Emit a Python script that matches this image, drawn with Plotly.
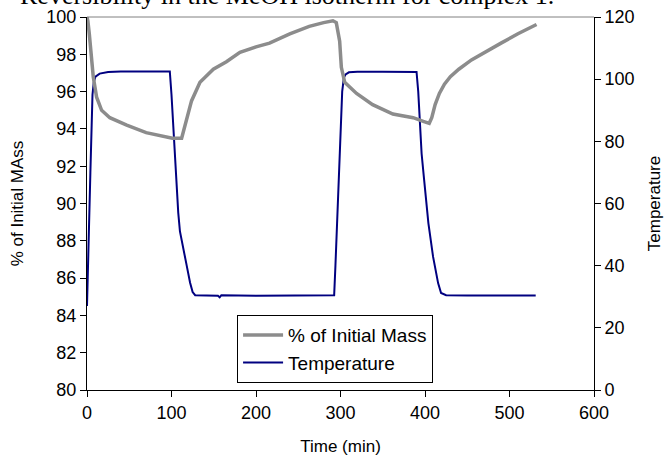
import plotly.graph_objects as go

# ---- data ----
temp_time = [0, 1, 2.5, 4, 5.5, 6.5, 8, 10, 15, 25, 40, 60, 80, 98, 100, 102, 104, 106, 108, 110,
             114, 118, 122, 125, 128, 140, 155, 157, 159, 200, 250, 292.5, 294, 296, 298, 299.5,
             300.5, 302, 304, 306, 310, 320, 350, 380, 390, 392, 394, 396, 399, 400, 404, 409.6,
             415.5, 419, 425, 450, 500, 531]
temp_vals = [27, 40, 55, 70, 85, 95, 99, 100.8, 101.8, 102.3, 102.5, 102.5, 102.5, 102.5, 95, 85,
             75, 65, 57, 51, 45, 40, 34.5, 31.5, 30.5, 30.5, 30.3, 29.8, 30.5, 30.3, 30.3, 30.5,
             40, 55, 65, 78, 87, 96, 100.5, 101.5, 102.2, 102.4, 102.4, 102.3, 102.3, 96, 87,
             76, 67.5, 64.4, 53.7, 42.8, 34.4, 31.2, 30.5, 30.4, 30.4, 30.4]

mass_time = [0, 1, 2.7, 5.5, 7.4, 11.4, 17.3, 27, 47, 70, 94, 101, 112, 115, 117.8, 123.7, 133.7,
             149.5, 165, 181, 200, 216, 240, 263, 280, 291, 295, 299, 301, 305, 319, 338, 362,
             386, 398, 405, 408, 412, 417, 423, 430, 440, 455, 470, 490, 510, 532]
mass_vals = [100, 99.8, 99.1, 97.9, 96.8, 95.7, 95.0, 94.6, 94.2, 93.8, 93.6, 93.5, 93.5, 94.0,
             94.5, 95.5, 96.5, 97.2, 97.6, 98.1, 98.4, 98.6, 99.1, 99.5, 99.7, 99.8, 99.7, 98.7,
             97.3, 96.5, 95.9, 95.3, 94.8, 94.6, 94.4, 94.3, 94.6, 95.3, 95.9, 96.4, 96.8, 97.2,
             97.7, 98.1, 98.6, 99.1, 99.6]

x_ticks = [0, 100, 200, 300, 400, 500, 600]
mass_ticks = [80, 82, 84, 86, 88, 90, 92, 94, 96, 98, 100]
temp_ticks = [0, 20, 40, 60, 80, 100, 120]

FONT = "Liberation Sans, Arial, sans-serif"

fig = go.Figure()
fig.add_trace(go.Scatter(x=mass_time, y=mass_vals, name="% of Initial Mass", mode="lines",
                         line=dict(color="#8c8c8c", width=3.5), yaxis="y2"))
fig.add_trace(go.Scatter(x=temp_time, y=temp_vals, name="Temperature", mode="lines",
                         line=dict(color="#000080", width=2), yaxis="y"))

fig.update_layout(
    width=669, height=459,
    margin=dict(l=87, r=75, t=17, b=69, autoexpand=False),
    paper_bgcolor="white", plot_bgcolor="white",
    font=dict(family=FONT, size=18, color="black"),
    showlegend=True,
    legend=dict(x=0.296, y=0.201, xanchor="left", yanchor="top",
                bgcolor="white", bordercolor="black", borderwidth=1,
                font=dict(size=19), tracegroupgap=0, itemwidth=40),
    xaxis=dict(range=[0, 600], tickvals=x_ticks, showgrid=False, zeroline=False,
               showline=True, linecolor="black", linewidth=1, automargin=False,
               ticks="outside", ticklen=6, tickcolor="black",
               title=dict(text="Time (min)", font=dict(size=17), standoff=18)),
    yaxis=dict(range=[0, 120], tickvals=temp_ticks, side="right", showgrid=False, zeroline=False,
               showline=True, linecolor="black", linewidth=1, automargin=False,
               ticks="outside", ticklen=6, tickcolor="black",
               title=dict(text="Temperature", font=dict(size=17), standoff=14)),
    yaxis2=dict(range=[80, 100], tickvals=mass_ticks, side="left", overlaying="y",
                showgrid=False, zeroline=False, automargin=False,
                showline=True, linecolor="black", linewidth=1,
                ticks="outside", ticklen=6, tickcolor="black",
                title=dict(text="% of Initial MAss", font=dict(size=17), standoff=18)),
    shapes=[dict(type="line", xref="paper", yref="paper", x0=0, x1=1, y0=1, y1=1,
                 line=dict(color="#808080", width=1))],
    annotations=[dict(text="Reversibility in the MeOH isotherm for complex 1.",
                      xref="paper", yref="paper", x=(556 - 87) / 507, y=(390 - 12) / 373,
                      xanchor="right", yanchor="bottom", showarrow=False,
                      font=dict(family="Liberation Serif, Times New Roman, serif", size=26,
                                color="black"))],
)

fig.write_html("out.html")
